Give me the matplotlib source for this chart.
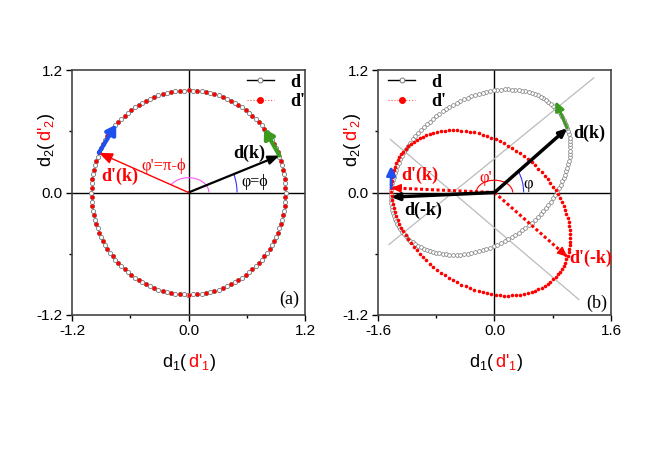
import numpy as np
import matplotlib
matplotlib.use('Agg')
import matplotlib.pyplot as plt
from matplotlib.patches import Arc
from matplotlib.lines import Line2D

plt.rcParams['font.family'] = ['Liberation Sans', 'DejaVu Sans']
plt.rcParams['mathtext.fontset'] = 'custom'
plt.rcParams['mathtext.rm'] = 'Liberation Sans'
plt.rcParams['mathtext.it'] = 'Liberation Sans:italic'
plt.rcParams['axes.unicode_minus'] = False

SERIF = ['Liberation Serif', 'DejaVu Serif']
W, H = 664, 470

# ---- panel (a): d(k) on the unit circle, d'(k) its mirror image ----
radius_a = 1.0
n_d_a = 140            # number of open markers for d
n_dp_a = 70            # number of dots for d'
dk_a = [0.937, 0.362]          # d(k)
dpk_a = [-0.924, 0.389]        # d'(k)
green_tip_a = [0.78, 0.624]    # tangent arrow at d(k)
blue_tip_a = [-0.745, 0.666]   # tangent arrow at d'(k)
xticks_a = [-1.2, 0.0, 1.2]
xminor_a = [-0.6, 0.6]

# ---- panel (b): tilted loop d(k), d'(k) = (d1(-k), -d2(-k)) ----
loop_center = [-0.19, 0.20]    # read from the extremes of the grey loop
loop_amp = [1.23, 0.81]
loop_phase = 72.5              # degrees between the d1 and d2 oscillations
n_d_b = 150
n_dp_b = 130
dk_b = [1.0, 0.63]
dmk_b = [-1.42, -0.045]
dpk_b = [-1.42, 0.045]
dpmk_b = [1.0, -0.63]
green_tip_b = [0.838, 0.894]
blue_tip_b = [-1.42, 0.26]
guide1 = [[-1.45, 1.364], [-0.51, 1.123]]
guide2 = [[-1.43, 1.158], [0.52, -1.048]]
xticks_b = [-1.6, 0.0, 1.6]
xminor_b = [-0.8, 0.8]

yticks = [-1.2, 0.0, 1.2]
yminor = [-0.6, 0.6]

GREEN = '#3c9a1e'
BLUE = '#1e50f0'
GREY = '#777777'


def arrow(ax, tail, tip, color, lw, hl=0.55, hw=0.22, ms=12, z=6):
    ax.annotate('', xy=tip, xytext=tail,
                arrowprops=dict(arrowstyle='-|>,head_length=%g,head_width=%g' % (hl, hw),
                                color=color, lw=lw, shrinkA=0, shrinkB=0,
                                mutation_scale=ms), zorder=z)


def dotted_arrow(ax, tip, color):
    ax.plot([0, tip[0]], [0, tip[1]], color=color, lw=2.2, ls=(0, (1, 0.8)), zorder=5)
    tail = [0.9 * tip[0], 0.9 * tip[1]]
    arrow(ax, tail, tip, color, 1.0, hl=0.5, hw=0.22)


def style_axes(ax, xt, xm):
    ax.set_xlim(xt[0], xt[-1])
    ax.set_ylim(yticks[0], yticks[-1])
    ax.set_xticks(xt)
    ax.set_xticklabels(['%.1f' % v for v in xt])
    ax.set_xticks(xm, minor=True)
    ax.set_yticks(yticks)
    ax.set_yticklabels(['%.1f' % v for v in yticks])
    ax.set_yticks(yminor, minor=True)
    ax.tick_params(which='major', direction='out', length=4, width=1, labelsize=11, pad=2.5)
    ax.tick_params(which='minor', direction='out', length=2.5, width=1)
    for s in ax.spines.values():
        s.set_color('#444444')
        s.set_linewidth(1.2)
    ax.axhline(0, color='black', lw=1, zorder=1)
    ax.axvline(0, color='black', lw=1, zorder=1)


def legend(ax, x0):
    h_d = Line2D([], [], color='black', lw=1, marker='o', mfc='white', mec=GREY, ms=3.5, mew=0.7)
    h_dp = Line2D([], [], color='#ff5555', lw=0.8, ls=':', marker='o', mfc='red', mec='red', ms=4)
    ax.legend([h_d, h_dp], ['d', "d'"], loc='upper left', bbox_to_anchor=(x0, 0.985),
              frameon=False, handlelength=1.5, handletextpad=0.9, borderpad=0,
              borderaxespad=0, labelspacing=0.15, numpoints=1,
              prop=dict(family=SERIF, weight='bold', size=13))


def multicolor(fig, x, y, parts, rotation=0, size=13, center=False):
    # x, y in figure pixels, pieces laid out along the baseline
    r = fig.canvas.get_renderer()
    widths = []
    for s, c in parts:
        t = fig.text(0, 0, s, fontsize=size)
        widths.append(t.get_window_extent(r).width)
        t.remove()
    off = -sum(widths) / 2 if center else 0.0
    for (s, c), w in zip(parts, widths):
        px, py = (x + off, y) if rotation == 0 else (x, y + off)
        fig.text(px / W, py / H, s, color=c, fontsize=size, ha='left', va='baseline',
                 rotation=rotation, rotation_mode='anchor')
        off += w


fig = plt.figure(figsize=(W / 100, H / 100), dpi=100)
ax_a = fig.add_axes([72 / W, 155 / H, 233 / W, 245 / H])
ax_b = fig.add_axes([378 / W, 155 / H, 233 / W, 245 / H])

# ---------------- panel (a) ----------------
style_axes(ax_a, xticks_a, xminor_a)
k = np.linspace(0, 2 * np.pi, n_d_a, endpoint=False)
ax_a.plot(radius_a * np.cos(k), radius_a * np.sin(k), ls='none', marker='o', ms=3.0,
          mfc='white', mec=GREY, mew=0.6, zorder=3)
k = np.linspace(0, 2 * np.pi, n_dp_a, endpoint=False) + np.pi / n_dp_a
ax_a.plot(-radius_a * np.cos(k), radius_a * np.sin(k), ls='none', marker='o', ms=3.0,
          mfc='red', mec='red', mew=0, zorder=4)

ax_a.add_patch(Arc((0, 0), 1.0, 1.0, theta1=0, theta2=np.degrees(np.arctan2(dk_a[1], dk_a[0])),
                   color='#3333ff', lw=0.8, zorder=2))
ax_a.add_patch(Arc((0, 0), 0.42, 0.29, theta1=0, theta2=np.degrees(np.arctan2(dpk_a[1], dpk_a[0])),
                   color='#ff55ff', lw=0.8, zorder=2))
arrow(ax_a, [0, 0], dk_a, 'black', 1.6, hl=0.55, hw=0.22)
arrow(ax_a, [0, 0], dpk_a, 'red', 1.0, hl=0.7, hw=0.28)
arrow(ax_a, dk_a, green_tip_a, GREEN, 3.0, hl=0.45, hw=0.28)
arrow(ax_a, dpk_a, blue_tip_a, BLUE, 3.0, hl=0.45, hw=0.28)

ax_a.text(0.456, 0.38, 'd(k)', family=SERIF, weight='bold', size=13, va='center')
ax_a.text(0.543, 0.10, 'φ=ϕ', family=SERIF, size=11.5, va='center')
ax_a.text(-0.487, 0.255, "φ'=π-ϕ", family=SERIF, size=12, color='red', va='center')
ax_a.text(-0.90, 0.157, "d'(k)", family=SERIF, weight='bold', size=13, color='red', va='center')
ax_a.text(1.143, -1.05, '(a)', family=SERIF, size=13, ha='right', va='center')
legend(ax_a, 0.75)

# ---------------- panel (b) ----------------
style_axes(ax_b, xticks_b, xminor_b)
ax_b.plot(guide1[0], guide1[1], color='#bbbbbb', lw=0.9, zorder=1)
ax_b.plot(guide2[0], guide2[1], color='#bbbbbb', lw=0.9, zorder=1)

t = np.linspace(0, 2 * np.pi, n_d_b, endpoint=False)
d1 = loop_center[0] + loop_amp[0] * np.cos(t)
d2 = loop_center[1] + loop_amp[1] * np.cos(t - np.radians(loop_phase))
ax_b.plot(d1, d2, ls='none', marker='o', ms=2.7, mfc='white', mec=GREY, mew=0.5, zorder=3)
t = np.linspace(0, 2 * np.pi, n_dp_b, endpoint=False)
d1 = loop_center[0] + loop_amp[0] * np.cos(t)
d2 = loop_center[1] + loop_amp[1] * np.cos(t - np.radians(loop_phase))
ax_b.plot(d1, -d2, ls='none', marker='o', ms=2.6, mfc='red', mec='red', mew=0, zorder=4)

ax_b.add_patch(Arc((0, 0), 0.8, 0.72, theta1=0, theta2=np.degrees(np.arctan2(dk_b[1], dk_b[0])),
                   color='#3333ff', lw=0.8, zorder=2))
ax_b.add_patch(Arc((0, 0), 0.5, 0.24, theta1=0, theta2=np.degrees(np.arctan2(dpk_b[1], dpk_b[0])),
                   color='red', lw=0.8, zorder=2))
dotted_arrow(ax_b, dpk_b, 'red')
dotted_arrow(ax_b, dpmk_b, 'red')
arrow(ax_b, [0, 0], dk_b, 'black', 2.5, hl=0.38, hw=0.17)
arrow(ax_b, [0, 0], dmk_b, 'black', 2.5, hl=0.38, hw=0.17)
arrow(ax_b, dk_b, green_tip_b, GREEN, 2.0, hl=0.45, hw=0.22)
arrow(ax_b, dpk_b, blue_tip_b, BLUE, 2.0, hl=0.45, hw=0.22)

ax_b.text(1.08, 0.578, 'd(k)', family=SERIF, weight='bold', size=13, va='center')
ax_b.text(-1.277, 0.167, "d'(k)", family=SERIF, weight='bold', size=13, color='red', va='center')
ax_b.text(-1.246, -0.176, 'd(-k)', family=SERIF, weight='bold', size=13, va='center')
ax_b.text(1.03, -0.646, "d'(-k)", family=SERIF, weight='bold', size=13, color='red', va='center')
ax_b.text(-0.206, 0.144, "φ'", family=SERIF, size=12, color='red', va='center')
ax_b.text(0.40, 0.08, 'φ', family=SERIF, size=12, va='center')
ax_b.text(1.548, -1.087, '(b)', family=SERIF, size=13, ha='right', va='center')
legend(ax_b, 0.043)

# axis labels with the primed part in red
xl = [('d$_{1}$(', 'black'), ("d'$_{1}$", 'red'), (')', 'black')]
yl = [('d$_{2}$(', 'black'), ("d'$_{2}$", 'red'), (')', 'black')]
multicolor(fig, 189, H - 366.7, xl, center=True)
multicolor(fig, 496, H - 366.7, xl, center=True)
multicolor(fig, 50.7, H - 166.7, yl, rotation=90)
multicolor(fig, 356.7, H - 166.7, yl, rotation=90)

fig.savefig('out.png', dpi=100)
